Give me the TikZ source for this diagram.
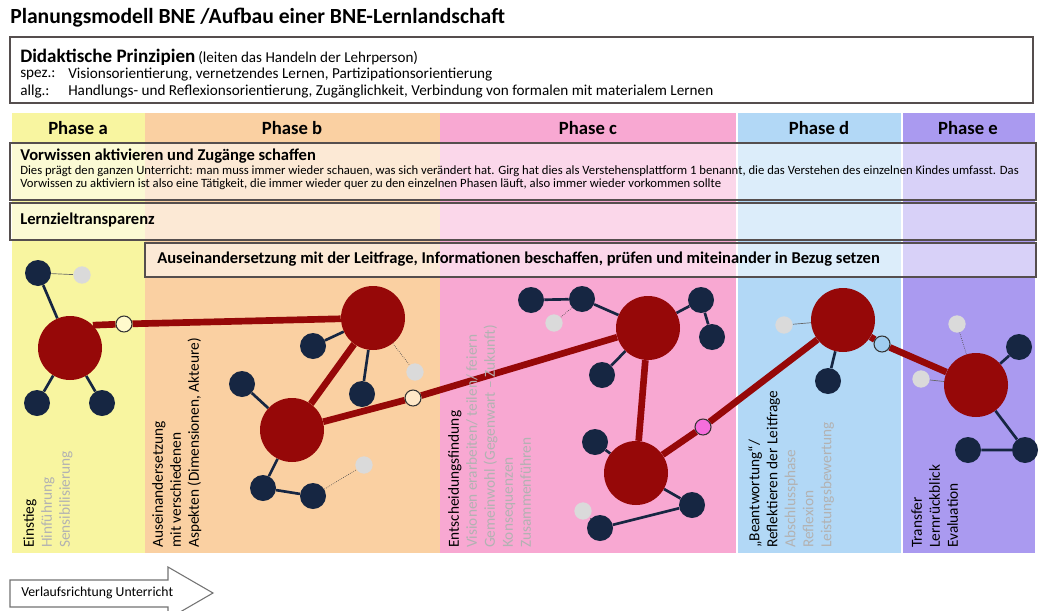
\documentclass[tikz,border=0pt]{standalone}
\usepackage{fontspec}
\setmainfont{Carlito}
\pgfdeclarelayer{bglayer}
\pgfdeclarelayer{edgelayer}
\pgfsetlayers{bglayer,edgelayer,main}
\definecolor{pa}{RGB}{248,245,160}
\definecolor{pb}{RGB}{250,208,162}
\definecolor{pc}{RGB}{248,168,210}
\definecolor{pd}{RGB}{178,216,246}
\definecolor{pe}{RGB}{170,154,240}
\definecolor{bigred}{RGB}{150,8,8}
\definecolor{navy}{RGB}{22,38,66}
\definecolor{lgray}{RGB}{218,218,218}
\definecolor{boxline}{RGB}{85,78,78}
\definecolor{txtgray}{RGB}{178,178,178}
\definecolor{ringa}{RGB}{255,250,205}
\definecolor{ringb}{RGB}{255,232,200}
\definecolor{ringc}{RGB}{245,110,220}
\definecolor{ringd}{RGB}{160,205,240}
\tikzset{
  bigc/.style={circle, fill=bigred, minimum size=48pt, inner sep=0pt},
  nvc/.style={circle, fill=navy, minimum size=19.5pt, inner sep=0pt},
  lgc/.style={circle, fill=lgray, minimum size=13pt, inner sep=0pt},
  ringc/.style={circle, draw=black!80, line width=0.8pt, minimum size=12pt, inner sep=0pt},
  redline/.style={draw=bigred, line width=5pt},
  navyline/.style={draw=navy, line width=2pt},
  dotline/.style={draw=black!70, line width=0.5pt, densely dotted},
  thinline/.style={draw=black!60, line width=0.5pt},
  pbox/.style={draw=boxline, line width=1.1pt, fill=white, fill opacity=0.55},
  rottext/.style={rotate=90, anchor=north west, align=left, inner sep=0pt, font=\fontsize{11.5}{13.5}\selectfont},
  phasehead/.style={font=\fontsize{14}{16}\selectfont\bfseries, inner sep=0pt},
  boxhead/.style={anchor=west, inner sep=0pt, font=\fontsize{12.4}{14}\selectfont\bfseries},
}
\begin{document}
\begin{tikzpicture}[x=0.75pt,y=-0.75pt]
\useasboundingbox (0,0) rectangle (1041,610);
\begin{pgfonlayer}{bglayer}
\fill[white] (0,0) rectangle (1041,610);
\fill[pa] (12,113) rectangle (145,553);
\fill[pb] (145,113) rectangle (440,553);
\fill[pc] (440,113) rectangle (736,553);
\fill[pd] (738,113) rectangle (901,553);
\fill[pe] (903,113) rectangle (1035,553);
\path[pbox] (10,143) rectangle (1036,200);
\path[pbox] (10,203) rectangle (1036,240);
\path[pbox] (145,243) rectangle (1036,277);
\end{pgfonlayer}

% title
\node[anchor=west, inner sep=0pt, font=\fontsize{16.2}{19}\selectfont\bfseries] (title) at (10,18) {Planungsmodell BNE /Aufbau einer BNE-Lernlandschaft};

% didaktische prinzipien
\draw[draw=boxline, line width=1.1pt] (10,37) rectangle (1033,103);
\node[anchor=west, inner sep=0pt] (dp) at (20,57) {{\fontsize{14.3}{16}\selectfont\bfseries Didaktische Prinzipien} {\fontsize{11.3}{13}\selectfont (leiten das Handeln der Lehrperson)}};
\node[anchor=west, inner sep=0pt, font=\fontsize{11.4}{13}\selectfont] (spez) at (20,75) {spez.:};
\node[anchor=west, inner sep=0pt, font=\fontsize{11.4}{13}\selectfont] (spezt) at (68,75) {Visionsorientierung, vernetzendes Lernen, Partizipationsorientierung};
\node[anchor=west, inner sep=0pt, font=\fontsize{11.4}{13}\selectfont] (allg) at (20,92) {allg.:};
\node[anchor=west, inner sep=0pt, font=\fontsize{11.4}{13}\selectfont] (allgt) at (68,92) {Handlungs- und Reflexionsorientierung, Zugänglichkeit, Verbindung von formalen mit materialem Lernen};

\node[phasehead] (ha) at (78,128) {Phase a};
\node[phasehead] (hb) at (292,128) {Phase b};
\node[phasehead] (hc) at (588,128) {Phase c};
\node[phasehead] (hd) at (819,128) {Phase d};
\node[phasehead] (he) at (968,128) {Phase e};

\node[boxhead] (vw) at (20,156) {Vorwissen aktivieren und Zugänge schaffen};
\node[anchor=north west, align=left, inner sep=0pt, font=\fontsize{9.5}{9.8}\selectfont] (vwt) at (20,165) {Dies prägt den ganzen Unterricht: man muss immer wieder schauen, was sich verändert hat. Girg hat dies als Verstehensplattform 1 benannt, die das Verstehen des einzelnen Kindes umfasst. Das\\Vorwissen zu aktiviern ist also eine Tätigkeit, die immer wieder quer zu den einzelnen Phasen läuft, also immer wieder vorkommen sollte};
\node[boxhead] (lz) at (20,220) {Lernzieltransparenz};
\node[boxhead] (al) at (157,259) {Auseinandersetzung mit der Leitfrage, Informationen beschaffen, prüfen und miteinander in Bezug setzen};

% rotated phase texts
\node[rottext] (ta) at (23,548) {Einstieg\\\textcolor{txtgray}{Hinführung}\\\textcolor{txtgray}{Sensibilisierung}};
\node[rottext] (tb) at (152,548) {Auseinandersetzung\\mit verschiedenen\\Aspekten (Dimensionen, Akteure)};
\node[rottext] (tc) at (448,548) {Entscheidungsfindung\\\textcolor{txtgray}{Visionen erarbeiten/ teilen/ feiern}\\\textcolor{txtgray}{Gemeinwohl (Gegenwart – Zukunft)}\\\textcolor{txtgray}{Konsequenzen}\\\textcolor{txtgray}{Zusammenführen}};
\node[rottext] (td) at (748,548) {„Beantwortung“/\\Reflektieren der Leitfrage\\\textcolor{txtgray}{Abschlussphase}\\\textcolor{txtgray}{Reflexion}\\\textcolor{txtgray}{Leistungsbewertung}};
\node[rottext] (te) at (911,548) {Transfer\\Lernrückblick\\Evaluation};

% molecules: phase a
\node[bigc] (A1) at (70,348) {};
\node[nvc] (an1) at (38,273) {};
\node[lgc] (ag1) at (82,275) {};
\node[nvc] (an2) at (37,403) {};
\node[nvc] (an3) at (102,403) {};
\node[ringc, fill=ringa] (r1) at (124,324) {};
% phase b
\node[bigc] (B1) at (373,318) {};
\node[nvc] (bn1) at (313,346) {};
\node[nvc] (bn2) at (362,394) {};
\node[lgc] (bg1) at (415,372) {};
\node[bigc] (B2) at (292,430) {};
\node[nvc] (bn3) at (242,384) {};
\node[nvc] (bn4) at (263,488) {};
\node[nvc] (bn5) at (313,496) {};
\node[lgc] (bg2) at (364,465) {};
\node[ringc, fill=ringb] (r2) at (413,398) {};
% phase c
\node[bigc] (C1) at (648,328) {};
\node[nvc] (cn1) at (531,300) {};
\node[nvc] (cn2) at (582,299) {};
\node[lgc] (cg1) at (554,323) {};
\node[nvc] (cn3) at (701,300) {};
\node[nvc] (cn4) at (712,337) {};
\node[nvc] (cn5) at (602,375) {};
\node[bigc] (C2) at (636,473) {};
\node[nvc] (cn6) at (595,442) {};
\node[nvc] (cn7) at (692,505) {};
\node[nvc] (cn8) at (600,528) {};
\node[lgc] (cg2) at (583,511) {};
\node[ringc, fill=ringc] (r3) at (703,427) {};
% phase d
\node[bigc] (D1) at (843,320) {};
\node[lgc] (dg1) at (784,325) {};
\node[nvc] (dn1) at (828,381) {};
\node[ringc, fill=ringd] (r4) at (882,344) {};
% phase e
\node[bigc] (E1) at (976,385) {};
\node[lgc] (eg1) at (957,324) {};
\node[nvc] (en1) at (1019,347) {};
\node[lgc] (eg2) at (921,379) {};
\node[nvc] (en2) at (1025,450) {};
\node[nvc] (en3) at (968,450) {};

\begin{pgfonlayer}{edgelayer}
\path[navyline] (A1) -- (an1) (A1) -- (an2) (A1) -- (an3);
\path[thinline] (an1) -- (ag1);
\path[navyline] (B1) -- (bn1) (B1) -- (bn2) (B2) -- (bn3) (B2) -- (bn4) (bn4) -- (bn5);
\path[dotline] (B1) -- (bg1) (bn5) -- (bg2);
\path[navyline] (cn1) -- (cn2) (cn2) -- (C1) (C1) -- (cn3) (cn3) -- (cn4) (C1) -- (cn5) (C2) -- (cn6) (C2) -- (cn7) (cn7) -- (cn8);
\path[dotline] (cn2) -- (cg1) (cn8) -- (cg2);
\path[thinline] (D1) -- (dg1);
\path[navyline] (D1) -- (dn1);
\path[dotline] (E1) -- (eg1);
\path[thinline] (E1) -- (eg2);
\path[navyline] (E1) -- (en1) (E1) -- (en2) (en2) -- (en3);
\path[redline] (A1.45) -- (r1) -- (B1);
\path[redline] (B1) -- (B2);
\path[redline] (B2) -- (r2) -- (C1);
\path[redline] (C1) -- (C2);
\path[redline] (C2) -- (r3) -- (D1);
\path[redline] (D1) -- (r4) -- (E1);
\end{pgfonlayer}

% direction arrow
\begin{scope}
\clip (0,0) rectangle (1041,610);
\draw[draw=black!55, line width=0.8pt, fill=white] (10,580) -- (168,580) -- (168,567) -- (213,593) -- (168,619) -- (168,607) -- (10,607) -- cycle;
\end{scope}
\node[anchor=west, inner sep=0pt, font=\fontsize{10.3}{12}\selectfont] (vr) at (21,593) {Verlaufsrichtung Unterricht};
\end{tikzpicture}
\end{document}
